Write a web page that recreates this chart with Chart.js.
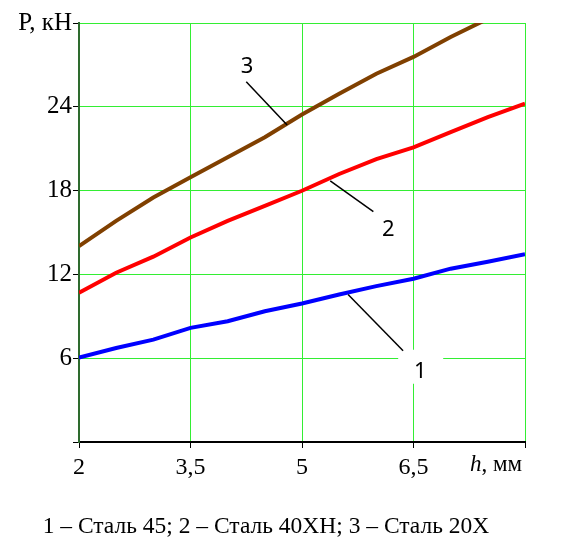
<!DOCTYPE html>
<html lang="ru">
<head>
    <meta charset="UTF-8">
    <title>P(h)</title>
    <script src="https://cdn.jsdelivr.net/npm/chart.js"></script>
    <style>
        body { margin: 0; background: #fff; }
    </style>
</head>
<body>
    <canvas id="myChart" width="581" height="541"></canvas>

    <script>
        // h, мм
        const hValues = [2, 2.5, 3, 3.5, 4, 4.5, 5, 5.5, 6, 6.5, 7, 7.5, 8];
        // P, кН
        const steel45 = [6.05, 6.73, 7.33, 8.17, 8.65, 9.36, 9.92, 10.56, 11.16, 11.69, 12.41, 12.91, 13.44];
        const steel40XN = [10.69, 12.12, 13.27, 14.64, 15.83, 16.91, 17.99, 19.19, 20.26, 21.1, 22.18, 23.26, 24.22];
        const steel20X = [14.03, 15.83, 17.51, 18.95, 20.39, 21.82, 23.45, 24.94, 26.37, 27.57, 29.0, 30.3, null];

        const xTicks = [2, 3.5, 5, 6.5, 8];
        const yTicks = [0, 6, 12, 18, 24, 30];

        // leader labels: text, label point, line start (on curve), line end
        const callouts = [
            { text: '3', at: [4.26, 26.9], from: [4.80, 22.7], to: [4.25, 25.8] },
            { text: '2', at: [6.16, 15.2], from: [5.38, 18.7], to: [5.96, 16.5] },
            { text: '1', at: [6.59, 5.03], from: [5.62, 10.56], to: [6.36, 6.54] }
        ];

        const caption = '1 – Сталь 45; 2 – Сталь 40ХН; 3 – Сталь 20Х';

        const serif = '"Liberation Serif", "Times New Roman", serif';
        const gridGreen = '#33ee33';

        const toPoints = (ys) => hValues.map((h, i) => ({ x: h, y: ys[i] }));

        const extras = {
            id: 'extras',
            afterDatasetsDraw(chart) {
                const { ctx, scales: { x, y } } = chart;
                ctx.save();
                callouts.forEach(c => {
                    const lx = x.getPixelForValue(c.at[0]);
                    const ly = y.getPixelForValue(c.at[1]);
                    ctx.fillStyle = '#fff';
                    ctx.fillRect(lx - 22, ly - 22, 45, 34);
                    ctx.strokeStyle = '#000';
                    ctx.lineWidth = 1.5;
                    ctx.beginPath();
                    ctx.moveTo(x.getPixelForValue(c.from[0]), y.getPixelForValue(c.from[1]));
                    ctx.lineTo(x.getPixelForValue(c.to[0]), y.getPixelForValue(c.to[1]));
                    ctx.stroke();
                    ctx.fillStyle = '#000';
                    ctx.font = '22px "Noto Sans", sans-serif';
                    ctx.textAlign = 'center';
                    ctx.textBaseline = 'middle';
                    ctx.fillText(c.text, lx, ly);
                });
                ctx.restore();
            },
            afterDraw(chart) {
                const { ctx, scales: { x } } = chart;
                ctx.save();
                ctx.fillStyle = '#000';
                ctx.textBaseline = 'middle';
                // axis name at the last x tick
                const ax = x.getPixelForValue(8) - 55;
                ctx.textAlign = 'left';
                ctx.font = 'italic 23px ' + serif;
                ctx.fillText('h', ax, 465);
                const hw = ctx.measureText('h').width;
                ctx.font = '23px ' + serif;
                ctx.fillText(', мм', ax + hw, 465);
                // caption
                ctx.font = '23.5px ' + serif;
                ctx.textAlign = 'center';
                ctx.fillText(caption, 266, 527);
                ctx.restore();
            }
        };

        const ctx = document.getElementById('myChart').getContext('2d');

        const myChart = new Chart(ctx, {
            type: 'line',
            data: {
                datasets: [
                    { label: '1', data: toPoints(steel45), borderColor: '#0000ff' },
                    { label: '2', data: toPoints(steel40XN), borderColor: '#ff0000' },
                    { label: '3', data: toPoints(steel20X), borderColor: '#804000' }
                ]
            },
            options: {
                responsive: false,
                animation: false,
                layout: { padding: { top: 23, right: 56, left: 0, bottom: 0 } },
                elements: {
                    line: { borderWidth: 4, tension: 0 },
                    point: { radius: 0 }
                },
                datasets: { line: { clip: 0 } },
                plugins: {
                    legend: { display: false },
                    tooltip: { enabled: false }
                },
                scales: {
                    x: {
                        type: 'linear',
                        min: 2,
                        max: 8,
                        afterFit: s => { s.height = 99; },
                        afterBuildTicks: s => { s.ticks = xTicks.map(v => ({ value: v })); },
                        grid: { color: gridGreen, lineWidth: 1, tickColor: '#000', tickLength: 6 },
                        border: { color: '#000', width: 2 },
                        ticks: {
                            color: '#000',
                            font: { family: serif, size: 24 },
                            padding: 5,
                            maxRotation: 0,
                            callback: v => v === 8 ? '' : String(v).replace('.', ',')
                        }
                    },
                    y: {
                        min: 0,
                        max: 30,
                        afterFit: s => { s.width = 79; },
                        afterBuildTicks: s => { s.ticks = yTicks.map(v => ({ value: v })); },
                        grid: { color: gridGreen, lineWidth: 1, tickColor: '#000', tickLength: 6 },
                        border: { color: '#2e6b2e', width: 2 },
                        ticks: {
                            color: '#000',
                            font: { family: serif, size: 25 },
                            padding: 1,
                            callback: v => v === 0 ? '' : (v === 30 ? 'P, кН' : String(v))
                        }
                    }
                }
            },
            plugins: [extras]
        });
    </script>
</body>
</html>
